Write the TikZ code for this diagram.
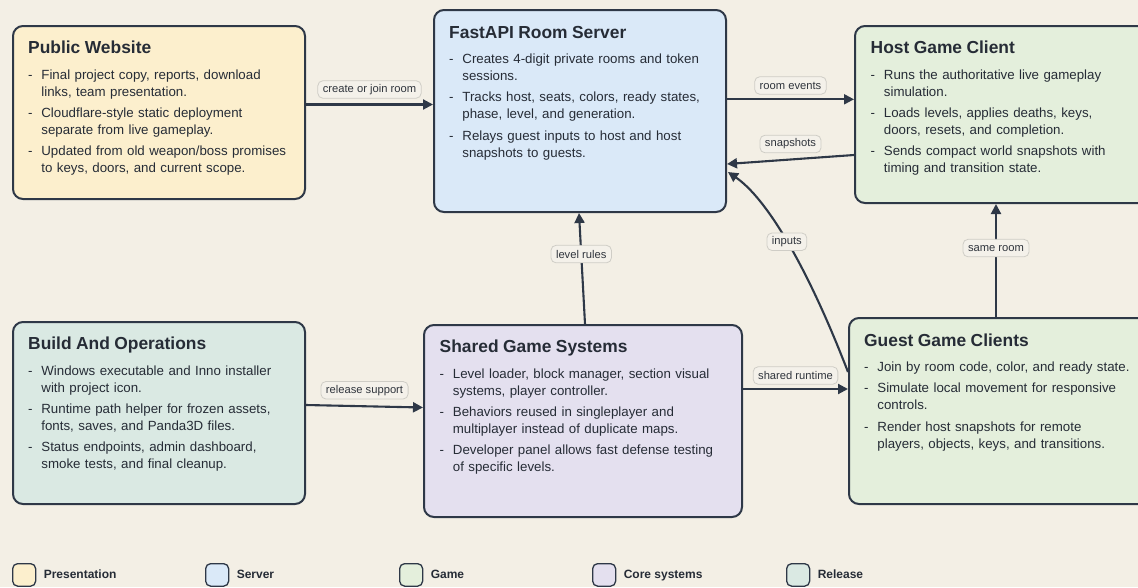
\documentclass[tikz,border=0pt]{standalone}
\usepackage{fontspec}
\setmainfont{Liberation Sans}
\usetikzlibrary{arrows.meta,calc}
\definecolor{bg}{HTML}{F3EFE5}
\definecolor{edge}{HTML}{2E3847}
\definecolor{ink}{HTML}{262C36}
\definecolor{cweb}{HTML}{FCEFCD}
\definecolor{csrv}{HTML}{DAE9F8}
\definecolor{cgame}{HTML}{E4EFDC}
\definecolor{ccore}{HTML}{E4E0EF}
\definecolor{crel}{HTML}{DAE9E3}
\definecolor{lblfill}{HTML}{F4F1EA}
\definecolor{lblborder}{HTML}{CFCDC6}
\definecolor{lbltext}{HTML}{30353D}
\newcommand{\bul}[1]{\par\hangindent=13.2pt\hangafter=1\noindent\makebox[13.2pt][l]{-}#1\par}
\newcommand{\boxtitle}[1]{{\fontsize{17.4}{17}\selectfont\bfseries\rule{0pt}{13.5pt}#1\par}\vspace{4pt}}
\tikzset{
  box/.style={draw=edge, line width=2pt, rounded corners=10pt, anchor=north west, inner sep=0pt},
  txt/.style={anchor=north west, inner sep=0pt, text width=330pt, align=left, text=ink,
    font=\fontsize{13.3}{17}\selectfont\setlength{\parskip}{4.3pt}},
  lbl/.style={draw=lblborder, fill=lblfill, rounded corners=5pt, font=\fontsize{11.2}{13}\selectfont,
    text=lbltext, inner xsep=5pt, inner ysep=0pt, minimum height=17.5pt, line width=0.8pt},
  conn/.style={draw=edge, line width=2.1pt, -{Triangle[length=10pt,width=10pt]}},
  swatch/.style={draw=edge, line width=1.3pt, rounded corners=5pt, anchor=north west, inner sep=0pt,
    minimum width=23pt, minimum height=22.5pt},
  legtxt/.style={anchor=base west, inner sep=0pt, text=ink, font=\fontsize{12}{14}\selectfont\bfseries},
}
\begin{document}
\begin{tikzpicture}[x=1pt,y=-1pt]
\fill[bg] (0,0) rectangle (1138,587);
\useasboundingbox (0,0) rectangle (1138,587);

% boxes
\node[box, fill=cweb, minimum width=292pt, minimum height=173pt] (web) at (12,25) {};
\node[box, fill=csrv, minimum width=292pt, minimum height=202pt] (srv) at (433,9) {};
\node[box, fill=cgame, minimum width=300pt, minimum height=177pt] (host) at (854,25) {};
\node[box, fill=crel, minimum width=292pt, minimum height=182pt] (build) at (12,321) {};
\node[box, fill=ccore, minimum width=318pt, minimum height=192pt] (core) at (423,324) {};
\node[box, fill=cgame, minimum width=306pt, minimum height=186pt] (guest) at (848,317) {};

% texts
\node[txt] (webtxt) at ($(web.north west)+(16,15)$) {\boxtitle{Public Website}%
\bul{Final project copy, reports, download\newline links, team presentation.}%
\bul{Cloudflare-style static deployment\newline separate from live gameplay.}%
\bul{Updated from old weapon/boss promises\newline to keys, doors, and current scope.}};

\node[txt] (srvtxt) at ($(srv.north west)+(16,15.5)$) {\boxtitle{FastAPI Room Server}%
\bul{Creates 4-digit private rooms and token\newline sessions.}%
\bul{Tracks host, seats, colors, ready states,\newline phase, level, and generation.}%
\bul{Relays guest inputs to host and host\newline snapshots to guests.}};

\node[txt] (hosttxt) at ($(host.north west)+(16.5,15)$) {\boxtitle{Host Game Client}%
\bul{Runs the authoritative live gameplay\newline simulation.}%
\bul{Loads levels, applies deaths, keys,\newline doors, resets, and completion.}%
\bul{Sends compact world snapshots with\newline timing and transition state.}};

\node[txt] (buildtxt) at ($(build.north west)+(16,15)$) {\boxtitle{Build And Operations}%
\bul{Windows executable and Inno installer\newline with project icon.}%
\bul{Runtime path helper for frozen assets,\newline fonts, saves, and Panda3D files.}%
\bul{Status endpoints, admin dashboard,\newline smoke tests, and final cleanup.}};

\node[txt] (coretxt) at ($(core.north west)+(16.5,15)$) {\boxtitle{Shared Game Systems}%
\bul{Level loader, block manager, section visual\newline systems, player controller.}%
\bul{Behaviors reused in singleplayer and\newline multiplayer instead of duplicate maps.}%
\bul{Developer panel allows fast defense testing\newline of specific levels.}};

\node[txt] (guesttxt) at ($(guest.north west)+(16,15.5)$) {\boxtitle{Guest Game Clients}%
\bul{Join by room code, color, and ready state.}%
\bul{Simulate local movement for responsive\newline controls.}%
\bul{Render host snapshots for remote\newline players, objects, keys, and transitions.}};

% connectors
\draw[conn] ($(web.north east)+(0,79.5)$) -- ($(srv.north west)+(0,95.5)$)
  node[lbl, midway, yshift=15pt] (l1) {create or join room};
\draw[conn] ($(srv.north east)+(0,90.3)$) -- ($(host.north west)+(0,74.3)$)
  node[lbl, midway, yshift=13.8pt] (l2) {room events};
\draw[conn] ($(host.north west)+(0,130)$) -- ($(srv.north east)+(0,155)$)
  node[lbl, midway, yshift=15.5pt] (l3) {snapshots};
\coordinate (inputsc1) at (806.7,265);
\coordinate (inputsc2) at (766.3,198.3);
\draw[conn] ($(guest.north west)+(0,55)$) .. controls (inputsc1) and (inputsc2) .. ($(srv.north east)+(1,163)$)
  node[lbl, pos=0.5] (l4) {inputs};
\draw[conn] ($(core.north west)+(162,0)$) -- ($(srv.south west)+(146,0)$)
  node[lbl, pos=0.63] (l5) {level rules};
\draw[conn] ($(guest.north west)+(148,0)$) -- ($(host.south west)+(142,0)$)
  node[lbl, pos=0.61] (l6) {same room};
\draw[conn] ($(core.north east)+(0,65)$) -- ($(guest.north west)+(0,72)$)
  node[lbl, midway, yshift=13.5pt] (l7) {shared runtime};
\draw[conn] ($(build.north east)+(0,84)$) -- ($(core.north west)+(0,83.5)$)
  node[lbl, midway, yshift=16pt] (l8) {release support};

% legend
\node[swatch, fill=cweb] (s1) at (12,563) {};
\node[legtxt] (t1) at (43.6,578) {Presentation};
\node[swatch, fill=csrv] (s2) at (205,563) {};
\node[legtxt] (t2) at (236.6,578) {Server};
\node[swatch, fill=cgame] (s3) at (399,563) {};
\node[legtxt] (t3) at (430.6,578) {Game};
\node[swatch, fill=ccore] (s4) at (592,563) {};
\node[legtxt] (t4) at (623.6,578) {Core systems};
\node[swatch, fill=crel] (s5) at (786,563) {};
\node[legtxt] (t5) at (817.6,578) {Release};
\end{tikzpicture}
\end{document}
